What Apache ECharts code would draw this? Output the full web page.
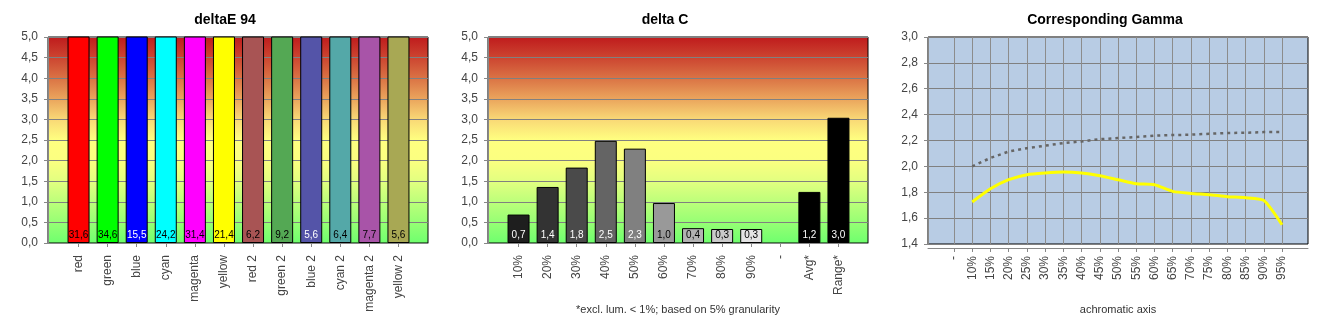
<!DOCTYPE html>
<html><head><meta charset="utf-8">
<script src="https://cdn.jsdelivr.net/npm/echarts@6/dist/echarts.min.js"></script>
<style>html,body{margin:0;padding:0;background:#fff}#c{width:1330px;height:330px}</style>
</head><body><div id="c"></div>
<script>
// ---- data ----
const deCategories = ['red','green','blue','cyan','magenta','yellow','red 2','green 2','blue 2','cyan 2','magenta 2','yellow 2'];
const deValues = [31.6,34.6,15.5,24.2,31.4,21.4,6.2,9.2,5.6,6.4,7.7,5.6];
const dcCategories = ['10%','20%','30%','40%','50%','60%','70%','80%','90%','-','Avg*','Range*'];
const dcValues = [0.69,1.36,1.83,2.48,2.29,0.97,0.36,0.34,0.34,null,1.24,3.04];
const gammaCategories = ['-','10%','15%','20%','25%','30%','35%','40%','45%','50%','55%','60%','65%','70%','75%','80%','85%','90%','95%'];
const gammaReference = [null,2.00,2.065,2.115,2.14,2.16,2.18,2.193,2.21,2.219,2.227,2.237,2.242,2.245,2.252,2.258,2.26,2.265,2.265];
const gammaMeasured = [null,1.725,1.827,1.897,1.936,1.949,1.956,1.949,1.928,1.897,1.866,1.858,1.807,1.791,1.781,1.766,1.758,1.737,1.549];
const titles = ['deltaE 94','delta C','Corresponding Gamma'];
const dcNote = '*excl. lum. < 1%; based on 5% granularity';
const gammaAxisName = 'achromatic axis';

// ---- styles ----
const deColors = ['#ff0000','#00ff00','#0000ff','#00ffff','#ff00ff','#ffff00','#a85454','#54a854','#5454a8','#54a8a8','#a854a8','#a8a854'];
const deLabelColors = ['#000','#000','#fff','#000','#000','#000','#000','#000','#fff','#000','#000','#000'];
const dcColors = ['#1e1e1e','#333333','#4a4a4a','#646464','#808080','#999999','#b2b2b2','#cacaca','#e4e4e4','#000000','#000000','#000000'];
const dcLabelColors = ['#fff','#fff','#fff','#fff','#fff','#000','#000','#000','#000','#fff','#fff','#fff'];

const FONT = 'Liberation Sans';
const fmt = v => v.toFixed(1).replace('.', ',');
const bgGrad = () => new echarts.graphic.LinearGradient(0,0,0,1,[
  {offset:0, color:'#bf1a1c'},
  {offset:0.1, color:'#cc4430'},
  {offset:0.2, color:'#da7244'},
  {offset:0.3, color:'#eaa45c'},
  {offset:0.4, color:'#f9d876'},
  {offset:0.5, color:'#ffff80'},
  {offset:0.6, color:'#fbff80'},
  {offset:0.7, color:'#e2ff80'},
  {offset:0.8, color:'#bcff7a'},
  {offset:0.9, color:'#96ff74'},
  {offset:1, color:'#6eff6e'}
]);

const PANEL_LEFT = [48, 488, 928];
const TOP = 37, W = 380, H = 206;

const grids = [], xAxes = [], yAxes = [], series = [];

function outer(i, bg, yMin, yMax, yInt, h, name, nameGap) {
  grids.push({left: PANEL_LEFT[i], top: TOP, width: W, height: h, show: true,
    backgroundColor: bg, borderColor: '#000', borderWidth: 1});
  const g = grids.length - 1;
  xAxes.push({gridIndex: g, type: 'value', min: 0, max: 1, offset: 4,
    axisLine: {show: true, lineStyle: {color: '#888'}}, axisTick: {show: false},
    axisLabel: {show: false}, splitLine: {show: false},
    name: name || '', nameLocation: 'middle', nameGap: nameGap || 0,
    nameTextStyle: {fontFamily: FONT, fontSize: 11, color: '#333'}});
  yAxes.push({gridIndex: g, type: 'value', min: yMin, max: yMax, interval: yInt, offset: 4,
    axisLine: {show: true, lineStyle: {color: '#888'}},
    axisTick: {show: true, length: 4, lineStyle: {color: '#888'}},
    axisLabel: {margin: 6, color: '#444', fontFamily: FONT, fontSize: 12, formatter: v => fmt(v)},
    splitLine: {show: true, lineStyle: {color: '#808080', width: 1}}});
  return g;
}

function inner(left, width, h, cats, boundaryGap, yMin, yMax, split) {
  grids.push({left: left, top: TOP, width: width, height: h});
  const g = grids.length - 1;
  xAxes.push({gridIndex: g, type: 'category', data: cats, boundaryGap: boundaryGap, offset: 4,
    axisLine: {show: false},
    axisTick: {show: true, length: 4, alignWithLabel: true, lineStyle: {color: '#888'}},
    axisLabel: {rotate: 90, margin: 8, color: '#444', fontFamily: FONT, fontSize: 12, interval: 0},
    splitLine: {show: !!split, lineStyle: {color: '#8c8c8c', width: 1}}});
  yAxes.push({gridIndex: g, type: 'value', min: yMin, max: yMax, show: false, splitLine: {show: false}});
  return g;
}

// Chart 1: deltaE 94
outer(0, bgGrad(), 0, 5, 0.5, H);
const g1 = inner(PANEL_LEFT[0] + 16, 349, H, deCategories, true, 0, 5);
series.push({type: 'bar', xAxisIndex: g1, yAxisIndex: g1, barWidth: 22,
  data: deValues.map((v, k) => ({value: v, itemStyle: {color: deColors[k], borderColor: '#000', borderWidth: 1},
    label: {color: deLabelColors[k]}})),
  label: {show: true, position: 'insideBottom', distance: 3, fontFamily: FONT, fontSize: 10,
    formatter: p => p.value == null ? '' : fmt(p.value)}});

// Chart 2: delta C
outer(1, bgGrad(), 0, 5, 0.5, H, dcNote, 57);
const g2 = inner(PANEL_LEFT[1] + 16, 349, H, dcCategories, true, 0, 5);
series.push({type: 'bar', xAxisIndex: g2, yAxisIndex: g2, barWidth: 22,
  data: dcValues.map((v, k) => ({value: v, itemStyle: {color: dcColors[k], borderColor: '#000', borderWidth: 1},
    label: {color: dcLabelColors[k]}})),
  label: {show: true, position: 'insideBottom', distance: 3, fontFamily: FONT, fontSize: 10,
    formatter: p => p.value == null ? '' : fmt(p.value)}});

// Chart 3: Corresponding Gamma
outer(2, '#b8cce4', 1.4, 3.0, 0.2, 207, gammaAxisName, 56);
const g3 = inner(PANEL_LEFT[2] + 26, 328, 207, gammaCategories, false, 1.4, 3.0, true);
series.push({type: 'line', xAxisIndex: g3, yAxisIndex: g3, data: gammaReference, symbol: 'none',
  lineStyle: {color: '#666666', width: 2.5, type: [3, 4]}});
series.push({type: 'line', xAxisIndex: g3, yAxisIndex: g3, data: gammaMeasured, symbol: 'none', smooth: 0.2,
  lineStyle: {color: '#ffff00', width: 3}});

const titleCenters = [225, 665, 1105];
const option = {
  animation: false,
  title: titles.map((t, i) => ({text: t, left: titleCenters[i], top: 13, textAlign: 'center', padding: 0,
    textStyle: {fontFamily: FONT, fontSize: 14, fontWeight: 'bold', color: '#000'}})),
  grid: grids, xAxis: xAxes, yAxis: yAxes, series: series
};
const chart = echarts.init(document.getElementById('c'), null, {renderer: 'canvas'});
chart.setOption(option);
</script></body></html>
